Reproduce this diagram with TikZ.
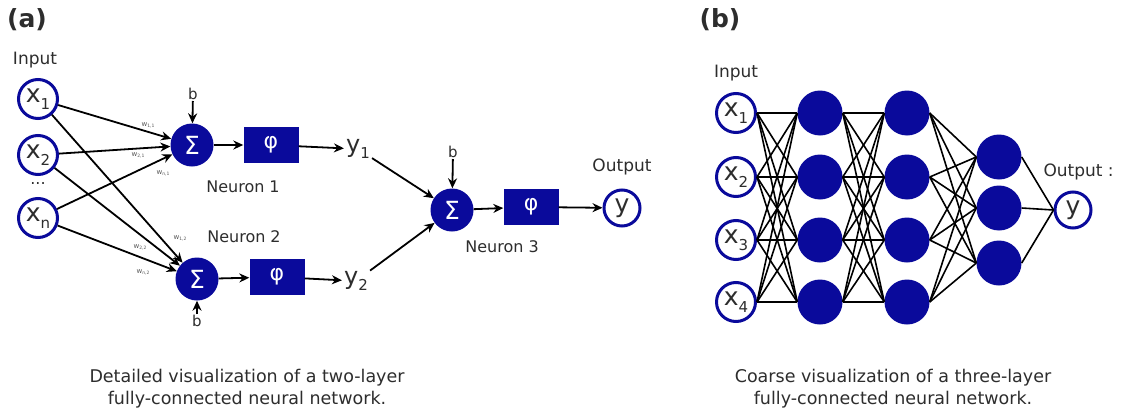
\documentclass[tikz,border=0pt]{standalone}
\usepackage{fontspec}
\setmainfont{DejaVu Sans}
\usetikzlibrary{arrows.meta,calc}
\definecolor{nblue}{RGB}{10,10,155}
\definecolor{txt}{RGB}{45,45,45}
\newcommand{\xsub}[2]{#1\raisebox{-0.28em}{\fontsize{15}{15}\selectfont #2}}
\newcommand{\wl}[1]{w\raisebox{-1.2pt}{\fontsize{4.5}{4.5}\selectfont #1}}
\tikzset{
  inp/.style={circle,draw=nblue,line width=3pt,fill=white,minimum size=39pt,inner sep=0pt,text=txt,font=\fontsize{25}{25}\selectfont},
  sig/.style={circle,fill=nblue,minimum size=43pt,inner sep=0pt,text=white,font=\fontsize{25}{25}\selectfont},
  phibox/.style={rectangle,fill=nblue,minimum width=55pt,minimum height=36pt,inner sep=0pt,text=white,font=\fontsize{22}{22}\selectfont},
  hid/.style={circle,fill=nblue,minimum size=45pt,inner sep=0pt},
  lbl/.style={text=txt,font=\fontsize{17}{17}\selectfont},
  nlbl/.style={text=txt,font=\fontsize{16}{16}\selectfont},
  ylbl/.style={text=txt,font=\fontsize{24}{24}\selectfont,inner sep=2pt},
  blbl/.style={text=txt,font=\fontsize{15}{15}\selectfont,inner sep=1pt},
  wlbl/.style={text=black!65,font=\fontsize{7}{7}\selectfont,inner sep=0pt},
  panel/.style={text=txt,font=\fontsize{25}{25}\selectfont\bfseries},
  captext/.style={text=txt,font=\fontsize{17.5}{22}\selectfont,align=center},
  arr/.style={-{Stealth[length=10pt,width=9pt]},line width=1.8pt,black},
  conn/.style={line width=1.6pt,black},
}
\begin{document}
\begin{tikzpicture}[x=1pt,y=-1pt]
\fill[white] (0,0) rectangle (1121,415);
\useasboundingbox (0,0) rectangle (1121,415);

% ---------- panel (a) ----------
\node[panel] (pa) at (27,20) {(a)};
\node[lbl] (inA) at (35,60) {Input};
\node[inp] (x1) at (38,99) {\xsub{x}{1}};
\node[inp] (x2) at (38,155) {\xsub{x}{2}};
\node[text=txt,font=\fontsize{16}{16}\selectfont] (dots) at (38,184) {...};
\node[inp] (xn) at (38,218) {\xsub{x}{n}};

\node[sig] (s1) at (192,145) {Σ};
\node[phibox] (p1) at (271,145) {φ};
\node[ylbl] (y1) at (358,149) {\xsub{y}{1}};
\node[blbl] (b1) at (193,94) {b};
\node[nlbl] (n1) at (243,187) {Neuron 1};

\node[sig] (s2) at (197,279) {Σ};
\node[phibox] (p2) at (277,277) {φ};
\node[ylbl] (y2) at (356,281) {\xsub{y}{2}};
\node[blbl] (b2) at (197,321) {b};
\node[nlbl] (n2) at (244,237) {Neuron 2};

\node[sig] (s3) at (452,210) {Σ};
\node[phibox] (p3) at (531,207) {φ};
\node[inp,minimum size=36pt] (yo) at (622,208) {y};
\node[lbl] (outA) at (622,167) {Output};
\node[blbl] (b3) at (453,152) {b};
\node[nlbl] (n3) at (502,247) {Neuron 3};

\foreach \s in {x1,x2,xn}{
  \draw[arr] (\s) -- (s1);
  \draw[arr] (\s) -- (s2);
}
\draw[arr] (b1) -- (s1);
\draw[arr] (b2) -- (s2);
\draw[arr] (b3) -- (s3);
\draw[arr] (s1) -- (p1);
\draw[arr] (p1) -- (y1);
\draw[arr] (s2) -- (p2);
\draw[arr] (p2) -- (y2);
\draw[arr] (y1) -- (s3);
\draw[arr] (y2) -- (s3);
\draw[arr] (s3) -- (p3);
\draw[arr] (p3) -- (yo);

\node[wlbl] (w11) at (148,125) {\wl{1,1}};
\node[wlbl] (w21) at (138,155) {\wl{2,1}};
\node[wlbl] (wn1) at (163,173) {\wl{n,1}};
\node[wlbl] (w12) at (180,238) {\wl{1,2}};
\node[wlbl] (w22) at (140,247) {\wl{2,2}};
\node[wlbl] (wn2) at (143,272) {\wl{n,2}};

\node[captext] (capA) at (247,389) {Detailed visualization of a two-layer\\fully-connected neural network.};

% ---------- panel (b) ----------
\node[panel] (pb) at (720,20) {(b)};
\node[lbl] (inB) at (736,73) {Input};
\foreach \i/\yy in {1/113,2/177,3/240,4/302}{
  \node[inp] (i\i) at (736,\yy) {\xsub{x}{\i}};
  \node[hid] (h\i) at (820,\yy) {};
  \node[hid] (g\i) at (907,\yy) {};
}
\foreach \k/\yy in {1/157,2/208,3/263}{
  \node[hid] (k\k) at (999,\yy) {};
}
\node[inp,minimum size=36pt] (yb) at (1073,210) {y};
\node[lbl,anchor=west] (outB) at (1040,172) {Output :};

\foreach \i in {1,...,4}{
  \foreach \j in {1,...,4}{
    \draw[conn] (i\i.east) -- (h\j.west);
    \draw[conn] (h\i.east) -- (g\j.west);
  }
  \foreach \j in {1,2,3}{
    \draw[conn] (g\i.east) -- (k\j.west);
  }
}
\foreach \k in {1,2,3}{
  \draw[conn] (k\k.east) -- (yb.west);
}

\node[captext] (capB) at (893,389) {Coarse visualization of a three-layer\\fully-connected neural network.};
\end{tikzpicture}
\end{document}
